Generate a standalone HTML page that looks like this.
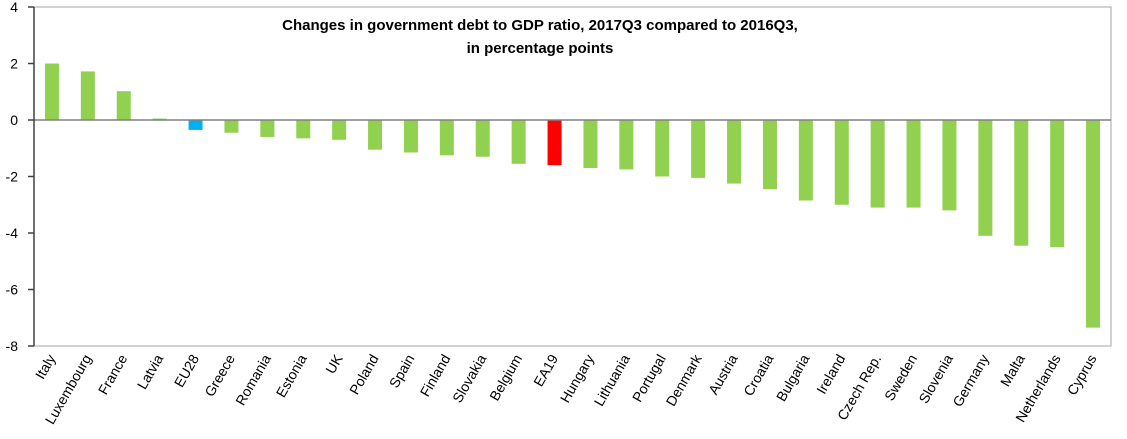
<!DOCTYPE html>
<html><head><meta charset="utf-8"><style>
body{margin:0;background:#fff;}
svg{display:block;font-family:"Liberation Sans",Arial,sans-serif;}
</style></head><body>
<svg id="chart" width="1127" height="439">
<rect x="34" y="7" width="1077" height="339" fill="#fff" stroke="#a6a6a6" stroke-width="1"/>
<text x="540" y="30" text-anchor="middle" font-size="15" font-weight="bold">Changes in government debt to GDP ratio, 2017Q3 compared to 2016Q3,</text>
<text x="540" y="53" text-anchor="middle" font-size="15" font-weight="bold">in percentage points</text>
<g id="bars"></g><g id="axes"></g>
</svg>
<script>
const categories=["Italy","Luxembourg","France","Latvia","EU28","Greece","Romania","Estonia","UK","Poland","Spain","Finland","Slovakia","Belgium","EA19","Hungary","Lithuania","Portugal","Denmark","Austria","Croatia","Bulgaria","Ireland","Czech Rep.","Sweden","Slovenia","Germany","Malta","Netherlands","Cyprus"];
const values=[2.0,1.72,1.02,0.05,-0.35,-0.45,-0.6,-0.65,-0.7,-1.05,-1.15,-1.25,-1.3,-1.55,-1.6,-1.7,-1.75,-2.0,-2.05,-2.25,-2.45,-2.85,-3.0,-3.1,-3.1,-3.2,-4.1,-4.45,-4.5,-7.35];
const yTicks=[4,2,0,-2,-4,-6,-8];
const NS="http://www.w3.org/2000/svg";
const pL=34,pR=1111,pT=7,pB=346,ymax=4,ymin=-8;
const y=v=>pT+(ymax-v)/(ymax-ymin)*(pB-pT);
const band=(pR-pL)/categories.length;
const xc=i=>pL+band*(i+0.5);
const bars=document.getElementById('bars'),axes=document.getElementById('axes');
function mk(t,a,p){const e=document.createElementNS(NS,t);for(const k in a)e.setAttribute(k,a[k]);p.appendChild(e);return e;}
values.forEach((v,i)=>{
  const c=categories[i]==="EU28"?"#00b0f0":categories[i]==="EA19"?"#ff0000":"#92d050";
  const r=mk('rect',{x:xc(i)-7,y:Math.min(y(v),y(0)),width:14,height:Math.max(1,Math.abs(y(v)-y(0))),fill:c},bars);
  
  
  const t=mk('text',{x:xc(i)+4,y:358,'text-anchor':'end','font-size':'14',transform:`rotate(-60 ${xc(i)+4} 358)`},axes);
  t.textContent=categories[i];
  
  
});
const zl=mk('line',{x1:pL,x2:pR,y1:y(0),y2:y(0),stroke:'#808080','stroke-width':1.5},axes);


const ya=mk('line',{x1:pL,x2:pL,y1:pT,y2:pB,stroke:'#404040','stroke-width':1.5},axes);


yTicks.forEach(v=>{
  mk('line',{x1:pL-6,x2:pL,y1:y(v),y2:y(v),stroke:'#404040','stroke-width':1.5},axes);
  const t=mk('text',{x:18,y:y(v)+5,'text-anchor':'end','font-size':'14'},axes);
  t.textContent=v;
  
  
});
</script>
</body></html>
